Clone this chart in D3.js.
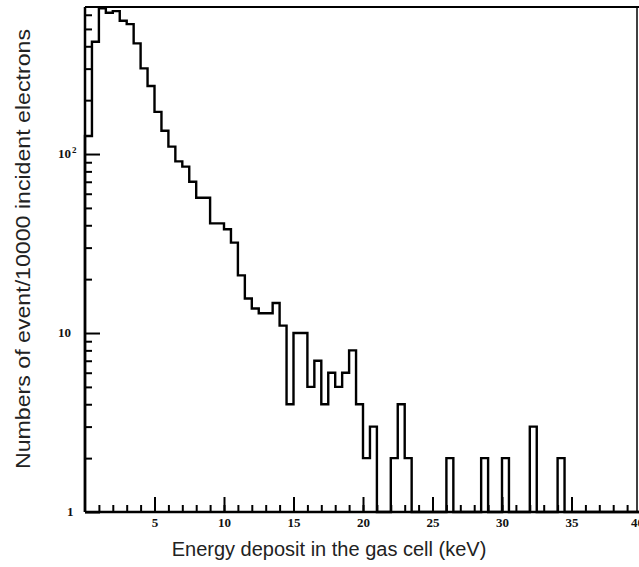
<!DOCTYPE html>
<html>
<head>
<meta charset="utf-8">
<script src="https://cdn.jsdelivr.net/npm/d3@7"></script>
<style>
  body { margin: 0; background: #fff; }
  svg { display: block; }
</style>
</head>
<body>
<div id="chart"></div>
<script>
// Energy deposit histogram (counts per 0.5 keV bin, log scale)
const binWidth = 0.5;
const counts = [
    126, 424, 652, 616, 629, 556, 532, 415, 301, 240,
    172, 135, 110, 91, 85, 70, 57, 57, 41, 41,
    38, 32, 21, 15.6, 13.7, 12.9, 12.9, 14.7, 11, 4,
    10, 10, 5, 7, 4, 6, 5, 6, 8, 4,
    2, 3, 0, 0, 2, 4, 2, 0, 0, 0,
    0, 0, 2, 0, 0, 0, 0, 2, 0, 0,
    2, 0, 0, 0, 3, 0, 0, 0, 2, 0,
    0, 0, 0, 0, 0, 0, 0, 0, 0, 0
];
const xMajorTicks = [5, 10, 15, 20, 25, 30, 35, 40];
const xMinorTicks = d3.range(1, 40);
const yMajorTicks = [1, 10, 100];
const yMinorTicks = [2, 3, 4, 5, 6, 7, 8, 9, 20, 30, 40, 50, 60, 70, 80, 90, 200, 300, 400, 500, 600];

const width = 639, height = 567;
const plot = { left: 85, top: 7, bottom: 512, right: 637 };

const svg = d3.select('#chart')
    .append('svg')
    .attr('width', width)
    .attr('height', height);

const x = d3.scaleLinear().domain([0, 40]).range([plot.left, 641]);
const y = d3.scaleLog().domain([1, 663]).range([plot.bottom, plot.top]);

const tickFont = '"Liberation Serif", "DejaVu Serif", serif';

// minor ticks on x (pointing up)
svg.append('g')
    .attr('transform', `translate(0,${plot.bottom})`)
    .call(d3.axisBottom(x).tickValues(xMinorTicks).tickSize(-7).tickFormat(''))
    .call(g => g.select('.domain').remove())
    .selectAll('line').attr('stroke', '#000').attr('stroke-width', 2);

// major ticks on x with labels
svg.append('g')
    .attr('transform', `translate(0,${plot.bottom})`)
    .call(d3.axisBottom(x).tickValues(xMajorTicks).tickSizeInner(-15).tickSizeOuter(0).tickPadding(5))
    .call(g => g.select('.domain').remove())
    .call(g => g.selectAll('line').attr('stroke', '#000').attr('stroke-width', 2))
    .selectAll('text')
    .attr('y', 6)
    .attr('dx', d => d === 40 ? -4 : 0)
    .style('font-family', tickFont)
    .style('font-weight', 'bold')
    .style('font-size', '13px')
    .attr('fill', '#111');

// minor ticks on y (pointing right)
svg.append('g')
    .attr('transform', `translate(${plot.left},0)`)
    .call(d3.axisLeft(y).tickValues(yMinorTicks).tickSize(-7).tickFormat(''))
    .call(g => g.select('.domain').remove())
    .selectAll('line').attr('stroke', '#000').attr('stroke-width', 2);

// major ticks on y, labels drawn below
svg.append('g')
    .attr('transform', `translate(${plot.left},0)`)
    .call(d3.axisLeft(y).tickValues(yMajorTicks).tickSizeInner(-15).tickSizeOuter(0).tickFormat(''))
    .call(g => g.select('.domain').remove())
    .call(g => g.selectAll('line').attr('stroke', '#000').attr('stroke-width', 2));

yMajorTicks.forEach(d => {
    const t = svg.append('text')
        .attr('x', 58)
        .attr('y', y(d) + 4)
        .style('font-family', tickFont)
        .style('font-weight', 'bold')
        .style('font-size', '13px')
        .attr('fill', '#111');
    if (d === 100) {
        t.text('10');
        t.append('tspan')
            .attr('dx', 1)
            .attr('dy', -5)
            .style('font-size', '9px')
            .text('2');
    } else if (d === 1) {
        t.attr('x', 67).text('1');
    } else {
        t.text(String(d));
    }
});

// histogram step line
const steps = counts.map((v, i) => ({ e: i * binWidth, v: v }));
steps.unshift({ e: 0, v: 1 });
steps.push({ e: counts.length * binWidth, v: counts[counts.length - 1] });

const line = d3.line()
    .x(d => x(d.e))
    .y(d => y(Math.max(d.v, 1)))
    .curve(d3.curveStepAfter);

svg.append('path')
    .datum(steps)
    .attr('d', line)
    .attr('fill', 'none')
    .attr('stroke', '#000')
    .attr('stroke-width', 2.4);

// frame
svg.append('line')
    .attr('x1', plot.left).attr('x2', plot.left).attr('y1', plot.top).attr('y2', plot.bottom)
    .attr('stroke', '#000').attr('stroke-width', 2.5);
svg.append('line')
    .attr('x1', plot.left).attr('x2', width).attr('y1', plot.bottom).attr('y2', plot.bottom)
    .attr('stroke', '#000').attr('stroke-width', 2.5);
svg.append('line')
    .attr('x1', plot.left).attr('x2', width).attr('y1', plot.top).attr('y2', plot.top)
    .attr('stroke', '#000').attr('stroke-width', 2);
svg.append('line')
    .attr('x1', plot.right).attr('x2', plot.right).attr('y1', plot.top).attr('y2', plot.bottom)
    .attr('stroke', '#000').attr('stroke-width', 1.5);

// axis titles
svg.append('text')
    .attr('text-anchor', 'middle')
    .attr('x', 329)
    .attr('y', 556)
    .style('font-family', '"Liberation Sans", Arial, sans-serif')
    .style('font-size', '20px')
    .style('fill', '#222')
    .text('Energy deposit in the gas cell (keV)');

svg.append('text')
    .attr('text-anchor', 'middle')
    .attr('transform', 'rotate(-90)')
    .attr('x', -249)
    .attr('y', 30)
    .attr('textLength', 440)
    .attr('lengthAdjust', 'spacingAndGlyphs')
    .style('font-family', '"Liberation Sans", Arial, sans-serif')
    .style('font-size', '21px')
    .style('fill', '#222')
    .text('Numbers of event/10000 incident electrons');
</script>
</body>
</html>
